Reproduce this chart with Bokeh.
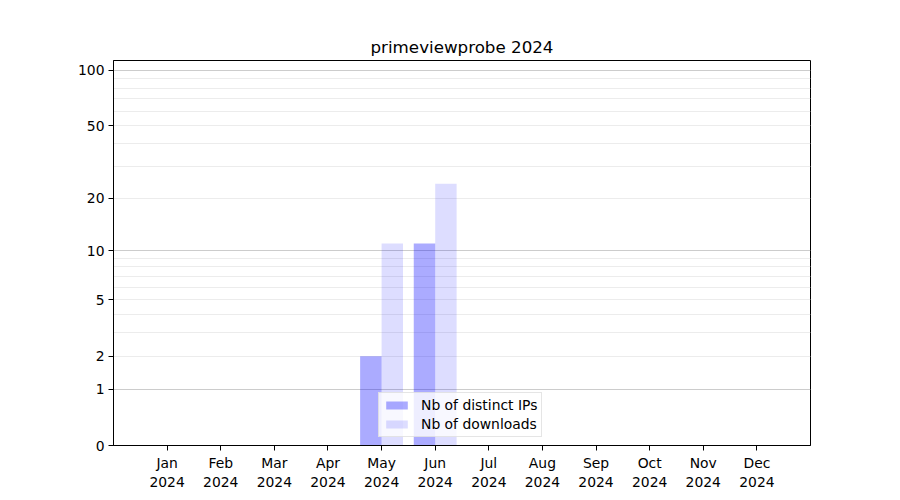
import numpy as np
from bokeh.plotting import figure
from bokeh.models import FixedTicker, Range1d, Legend, LegendItem, ColumnDataSource
from bokeh.embed import file_html
from bokeh.resources import INLINE

title = "primeviewprobe 2024"
months = ["Jan", "Feb", "Mar", "Apr", "May", "Jun", "Jul", "Aug", "Sep", "Oct", "Nov", "Dec"]
year = "2024"
ips = [0, 0, 0, 0, 2, 11, 0, 0, 0, 0, 0, 0]
downloads = [0, 0, 0, 0, 11, 24, 0, 0, 0, 0, 0, 0]
ytick_values = [0, 1, 2, 5, 10, 20, 50, 100]
major_grid_values = [1, 10, 100]
minor_grid_values = [2, 3, 4, 5, 6, 7, 8, 9, 20, 30, 40, 50, 60, 70, 80, 90]
ymax = 113

def tr(v):
    return np.log10(1 + np.asarray(v, dtype=float))

FONT = "DejaVu Sans"
idx = np.arange(len(months))
src = ColumnDataSource(dict(
    x_ip=idx - 0.2, x_dl=idx + 0.2,
    ip=tr(ips), dl=tr(downloads),
))

p = figure(frame_width=697, frame_height=385, output_backend="svg", toolbar_location=None,
           x_range=Range1d(-1, 12), y_range=Range1d(0, float(tr(ymax))),
           min_border_left=113, min_border_right=82, min_border_top=60, min_border_bottom=45)
p.background_fill_color = "white"
p.border_fill_color = "white"
p.outline_line_color = "black"
p.outline_line_width = 1

p.title.text = title
p.title.align = "center"
p.title.text_font = FONT
p.title.text_font_size = "16.7px"
p.title.text_font_style = "normal"
p.title.text_color = "black"
p.title.standoff = 8

r_ip = p.vbar(x="x_ip", width=0.4, top="ip", bottom=0, source=src,
              fill_color="blue", fill_alpha=0.33, line_color=None)
r_dl = p.vbar(x="x_dl", width=0.4, top="dl", bottom=0, source=src,
              fill_color="blue", fill_alpha=0.135, line_color=None)

# axes
p.xaxis.ticker = FixedTicker(ticks=list(idx))
p.xaxis.major_label_overrides = {int(i): f"{m}\n{year}" for i, m in zip(idx, months)}
p.yaxis.ticker = FixedTicker(ticks=list(tr(ytick_values)))
p.yaxis.major_label_overrides = {float(t): str(v) for t, v in zip(tr(ytick_values), ytick_values)}
for ax in (p.xaxis, p.yaxis):
    ax.major_label_text_font = FONT
    ax.major_label_text_font_size = "13.9px"
    ax.major_label_text_color = "black"
    ax.axis_line_color = "black"
    ax.major_tick_line_color = "black"
    ax.major_tick_out = 5
    ax.major_tick_in = 0
    ax.minor_tick_line_color = None
    ax.major_label_standoff = 4

# grid
p.xgrid.grid_line_color = None
p.ygrid.ticker = FixedTicker(ticks=list(tr(major_grid_values)), minor_ticks=list(tr(minor_grid_values)))
p.ygrid.grid_line_color = "#cccccc"
p.ygrid.grid_line_width = 1
p.ygrid.minor_grid_line_color = "#ececec"
p.ygrid.minor_grid_line_width = 1

legend = Legend(items=[LegendItem(label="Nb of distinct IPs", renderers=[r_ip]),
                       LegendItem(label="Nb of downloads", renderers=[r_dl])],
                location=(265, 8))
legend.label_text_font = FONT
legend.label_text_font_size = "13.9px"
legend.label_text_color = "black"
legend.glyph_width = 27
legend.glyph_height = 10
legend.label_standoff = 11
legend.padding = 4
legend.spacing = 3
legend.margin = 0
legend.border_line_color = "#cccccc"
legend.background_fill_color = "white"
legend.background_fill_alpha = 0.8
p.add_layout(legend, "center")

open("out.html", "w").write(file_html(p, INLINE))
